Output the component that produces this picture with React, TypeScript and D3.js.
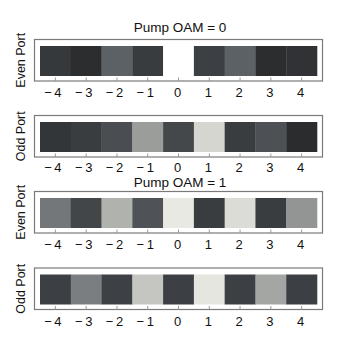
import * as d3 from 'd3';

// diffraction orders along x
const orders = [-4, -3, -2, -1, 0, 1, 2, 3, 4];

// normalised intensities (0 = dark, 1 = white)
const evenPort0 = [0.085, 0.02, 0.3, 0.1, 1.0, 0.12, 0.3, 0.02, 0.05];
const oddPort0 = [0.07, 0.107, 0.2, 0.6, 0.164, 0.835, 0.107, 0.215, 0.017];
const evenPort1 = [0.41, 0.153, 0.685, 0.226, 0.91, 0.107, 0.86, 0.107, 0.56];
const oddPort1 = [0.12, 0.447, 0.125, 0.77, 0.12, 0.9, 0.12, 0.636, 0.12];

const titles = ['Pump OAM = 0', 'Pump OAM = 1'];
const portLabels = ['Even Port', 'Odd Port'];

const W = 338;
const H = 346;
const font = '"Liberation Sans", Arial, sans-serif';

const color = d3
  .scaleLinear<string>()
  .domain([0, 0.3, 0.6, 0.9, 1])
  .range(['#27292b', '#5c6166', '#9b9d9b', '#e5e6df', '#ffffff']);

const x = d3.scaleBand<number>().domain(orders).range([40, 317]).padding(0);

function Panel({ top, values, label, tickY }: { top: number; values: number[]; label: string; tickY: number }) {
  const frameH = 41.5;
  const cellTop = top + 6.5;
  const cellH = 30;
  const bottom = top + frameH;
  return (
    <g>
      <rect x={34.5} y={top} width={288} height={frameH} fill="white" stroke="#7a7a7a" strokeWidth={1.2} />
      {values.map((v, i) => (
        <rect
          key={i}
          x={x(orders[i])}
          y={cellTop}
          width={x.bandwidth() + 0.3}
          height={cellH}
          fill={color(v)}
        />
      ))}
      {orders.map((o) => {
        const cx = (x(o) as number) + x.bandwidth() / 2;
        return (
          <g key={o}>
            <line x1={cx} x2={cx} y1={bottom} y2={bottom - 3.5} stroke="#9a9a9a" strokeWidth={1} />
            <text
              x={o < 0 ? cx - 2.5 : cx - 1}
              y={bottom + tickY}
              textAnchor="middle"
              fontSize={13}
              fontFamily={font}
              fill="#111"
            >
              {o < 0 ? `\u2212\u2009${Math.abs(o)}` : `${o}`}
            </text>
          </g>
        );
      })}
      <text
        transform={`translate(25,${top + frameH / 2}) rotate(-90)`}
        textAnchor="middle"
        fontSize={12.5}
        fontFamily={font}
        fill="#111"
      >
        {label}
      </text>
    </g>
  );
}

export default function App() {
  const panels = [
    { top: 39.5, values: evenPort0, label: portLabels[0], tickY: 16 },
    { top: 115.5, values: oddPort0, label: portLabels[1], tickY: 15 },
    { top: 191.5, values: evenPort1, label: portLabels[0], tickY: 16 },
    { top: 268, values: oddPort1, label: portLabels[1], tickY: 16 },
  ];
  return (
    <svg
      width={W}
      height={H}
      style={{ position: 'absolute', left: 0, top: 0, background: 'white' }}
    >
      {panels.map((p, i) => (
        <Panel key={i} {...p} />
      ))}
      <text x={180} y={32} textAnchor="middle" fontSize={13.5} fontFamily={font} fill="#111">
        {titles[0]}
      </text>
      <text x={180} y={187} textAnchor="middle" fontSize={13.5} fontFamily={font} fill="#111">
        {titles[1]}
      </text>
    </svg>
  );
}
